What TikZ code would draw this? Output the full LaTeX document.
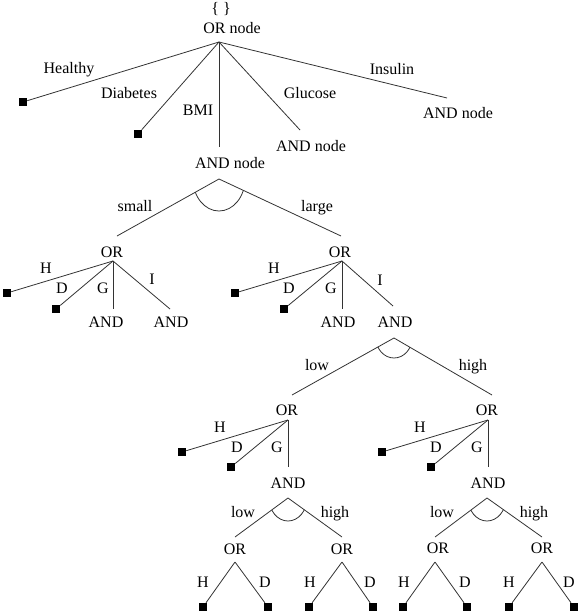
\documentclass[tikz,border=0pt]{standalone}
\usepackage{fontspec}
\setmainfont{Liberation Serif}

% arc across the two branches of an AND node: apex, left end, right end, x radius, y radius
\newcommand{\andarc}[5]{%
  \begin{scope}
    \clip (#1) -- (#2) -- (#3) -- cycle;
    \draw[ln] (#1) ellipse[x radius=#4, y radius=#5];
  \end{scope}}

\begin{document}
\begin{tikzpicture}[x=0.75pt,y=-0.75pt,
  lab/.style={font=\fontsize{12}{14}\selectfont,inner sep=0pt,text height=7.9pt,text depth=0pt},
  leaf/.style={fill=black,minimum size=6pt,inner sep=0pt},
  ln/.style={draw=black!80,line width=0.6pt}]
\useasboundingbox (0,0) rectangle (578,614);
% root
\node[lab] (brace) at (221,8) {\{ \}};
\node[lab] (root)  at (232,28) {OR node};
\coordinate (root-out) at (219,42);
% first level
\node[leaf] (h0) at (23,102) {};
\node[leaf] (d0) at (138,134) {};
\coordinate (bmi-in) at (219,147);
\node[lab] (bmi) at (230,163) {AND node};
\coordinate (bmi-out) at (219,179);
\coordinate (glu-in) at (300,130);
\node[lab] (glu) at (311,146) {AND node};
\coordinate (ins-in) at (447,98);
\node[lab] (ins) at (458,113) {AND node};
\draw[ln] (root-out) -- (h0);
\draw[ln] (root-out) -- (d0);
\draw[ln] (root-out) -- (bmi-in);
\draw[ln] (root-out) -- (glu-in);
\draw[ln] (root-out) -- (ins-in);
\node[lab] (l-healthy) at (69,68)  {Healthy};
\node[lab] (l-diab)    at (129,93) {Diabetes};
\node[lab] (l-bmi)     at (198,110) {BMI};
\node[lab] (l-glu)     at (310,93) {Glucose};
\node[lab] (l-ins)     at (392,69) {Insulin};
% BMI split
\coordinate (small-in) at (117,236);
\node[lab] (small) at (112,252) {OR};
\coordinate (small-out) at (113,261);
\coordinate (large-in) at (341,236);
\node[lab] (large) at (340,252) {OR};
\coordinate (large-out) at (342,261);
\draw[ln] (bmi-out) -- (small-in);
\draw[ln] (bmi-out) -- (large-in);
\andarc{bmi-out}{small-in}{large-in}{19.5pt}{24pt}
\node[lab] (l-small) at (135,206) {small};
\node[lab] (l-large) at (317,206) {large};
% small BMI
\node[leaf] (h1) at (7,293) {};
\node[leaf] (d1) at (56,309) {};
\coordinate (g1-in) at (113,309);
\node[lab] (g1) at (106,322) {AND};
\coordinate (i1-in) at (170,309);
\node[lab] (i1) at (171,322) {AND};
\draw[ln] (small-out) -- (h1);
\draw[ln] (small-out) -- (d1);
\draw[ln] (small-out) -- (g1-in);
\draw[ln] (small-out) -- (i1-in);
\node[lab] at (46,268)  {H};
\node[lab] at (62,288)  {D};
\node[lab] at (103,288) {G};
\node[lab] at (152,279) {I};
% large BMI
\node[leaf] (h2) at (235,293) {};
\node[leaf] (d2) at (284,309) {};
\coordinate (g2-in) at (342,309);
\node[lab] (g2) at (338,322) {AND};
\coordinate (i2-in) at (393,306);
\node[lab] (i2) at (395,322) {AND};
\coordinate (i2-out) at (394,338);
\draw[ln] (large-out) -- (h2);
\draw[ln] (large-out) -- (d2);
\draw[ln] (large-out) -- (g2-in);
\draw[ln] (large-out) -- (i2-in);
\node[lab] at (274,268) {H};
\node[lab] at (289,288) {D};
\node[lab] at (331,288) {G};
\node[lab] at (380,280) {I};
% insulin split
\coordinate (low-in) at (292,395);
\node[lab] (low) at (287,410) {OR};
\coordinate (low-out) at (288,420);
\coordinate (high-in) at (492,395);
\node[lab] (high) at (487,410) {OR};
\coordinate (high-out) at (488,420);
\draw[ln] (i2-out) -- (low-in);
\draw[ln] (i2-out) -- (high-in);
\andarc{i2-out}{low-in}{high-in}{13.5pt}{15pt}
\node[lab] at (317,365) {low};
\node[lab] at (473,365) {high};
% low insulin
\node[leaf] (h3) at (182,452) {};
\node[leaf] (d3) at (231,467) {};
\coordinate (g3-in) at (288,467);
\node[lab] (g3) at (288,483) {AND};
\coordinate (g3-out) at (288,498);
\draw[ln] (low-out) -- (h3);
\draw[ln] (low-out) -- (d3);
\draw[ln] (low-out) -- (g3-in);
\node[lab] at (220,427) {H};
\node[lab] at (237,447) {D};
\node[lab] at (277,447) {G};
% high insulin
\node[leaf] (h4) at (382,452) {};
\node[leaf] (d4) at (431,467) {};
\coordinate (g4-in) at (488,467);
\node[lab] (g4) at (488,483) {AND};
\coordinate (g4-out) at (487,498);
\draw[ln] (high-out) -- (h4);
\draw[ln] (high-out) -- (d4);
\draw[ln] (high-out) -- (g4-in);
\node[lab] at (420,427) {H};
\node[lab] at (436,447) {D};
\node[lab] at (477,447) {G};
% glucose split under low insulin
\coordinate (ll-in) at (235,537);
\node[lab] (ll) at (235,549) {OR};
\coordinate (ll-out) at (235,562);
\coordinate (lh-in) at (342,537);
\node[lab] (lh) at (342,549) {OR};
\coordinate (lh-out) at (342,562);
\draw[ln] (g3-out) -- (ll-in);
\draw[ln] (g3-out) -- (lh-in);
\andarc{g3-out}{ll-in}{lh-in}{14.25pt}{17.25pt}
\node[lab] at (243,512) {low};
\node[lab] at (335,512) {high};
\node[leaf] (h5) at (203,607) {};
\node[leaf] (d5) at (268,607) {};
\node[leaf] (h6) at (309,607) {};
\node[leaf] (d6) at (373,607) {};
\draw[ln] (ll-out) -- (h5);
\draw[ln] (ll-out) -- (d5);
\draw[ln] (lh-out) -- (h6);
\draw[ln] (lh-out) -- (d6);
\node[lab] at (203,582) {H};
\node[lab] at (265,582) {D};
\node[lab] at (310,582) {H};
\node[lab] at (370,582) {D};
% glucose split under high insulin
\coordinate (hl-in) at (435,537);
\node[lab] (hl) at (438,548) {OR};
\coordinate (hl-out) at (435,562);
\coordinate (hh-in) at (542,537);
\node[lab] (hh) at (542,548) {OR};
\coordinate (hh-out) at (542,562);
\draw[ln] (g4-out) -- (hl-in);
\draw[ln] (g4-out) -- (hh-in);
\andarc{g4-out}{hl-in}{hh-in}{14.25pt}{17.25pt}
\node[lab] at (442,512) {low};
\node[lab] at (534,512) {high};
\node[leaf] (h7) at (403,607) {};
\node[leaf] (d7) at (467,607) {};
\node[leaf] (h8) at (509,607) {};
\node[leaf] (d8) at (574,607) {};
\draw[ln] (hl-out) -- (h7);
\draw[ln] (hl-out) -- (d7);
\draw[ln] (hh-out) -- (h8);
\draw[ln] (hh-out) -- (d8);
\node[lab] at (404,582) {H};
\node[lab] at (465,582) {D};
\node[lab] at (509,582) {H};
\node[lab] at (569,582) {D};
\end{tikzpicture}
\end{document}
